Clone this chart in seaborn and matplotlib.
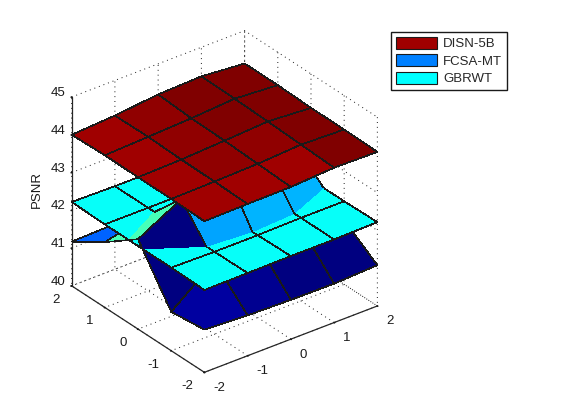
import numpy as np
import matplotlib
matplotlib.use("Agg")
import matplotlib.pyplot as plt
import seaborn as sns
from matplotlib.colors import LinearSegmentedColormap
from matplotlib.patches import Patch
from mpl_toolkits.mplot3d.art3d import Poly3DCollection, Line3DCollection

# grid of the surfaces, rows go with y, columns with x
grid_ticks = [-2, -1, 0, 1, 2]
psnr_ticks = [40, 41, 42, 43, 44, 45]
series_names = ["DISN-5B", "FCSA-MT", "GBRWT"]
legend_colors = ["#a00000", "#0080ff", "#00ffff"]

disn_psnr = [[44.00, 44.02, 44.03, 44.10, 44.08],
             [44.02, 44.04, 44.07, 44.14, 44.10],
             [44.02, 44.05, 44.11, 44.18, 44.10],
             [44.03, 44.08, 44.13, 44.21, 44.13],
             [44.00, 44.07, 44.19, 44.23, 44.13]]
fcsa_psnr = [[41.13, 41.07, 41.04, 41.03, 41.08],
             [41.03, 41.92, 41.95, 41.95, 41.70],
             [42.38, 43.00, 43.39, 43.15, 42.50],
             [41.73, 42.01, 42.14, 42.50, 42.30],
             [41.17, 41.20, 42.00, 42.10, 42.00]]
gbrwt_psnr = [[42.18, 42.19, 42.20, 42.20, 42.22],
              [42.20, 42.18, 42.18, 42.20, 42.20],
              [42.20, 42.20, 42.19, 42.20, 42.20],
              [42.20, 42.20, 42.20, 42.20, 42.20],
              [42.22, 42.20, 42.20, 42.20, 42.20]]

sns.set_theme(style="white", rc={"axes.unicode_minus": False})
plt.rcParams["font.family"] = ["Liberation Sans", "DejaVu Sans"]
plt.rcParams["font.size"] = 9.5

# seaborn refuses "jet", and the matplotlib one is not the same as the MATLAB one
jet = LinearSegmentedColormap.from_list("matlab_jet", [(0, "#000080"), (0.125, "#0000ff"), (0.375, "#00ffff"),
                                                       (0.625, "#ffff00"), (0.875, "#ff0000"), (1, "#800000")], N=64)
norm = plt.Normalize(41.0, 44.13)
X, Y = np.meshgrid(grid_ticks, grid_ticks)
Z_disn, Z_fcsa, Z_gbrwt = [np.array(z) for z in (disn_psnr, fcsa_psnr, gbrwt_psnr)]

fig = plt.figure(figsize=(5.61, 4.2), dpi=100)
ax = fig.add_axes([19.1 / 561, 13.1 / 420, 400 / 561, 400 / 420], projection="3d")
ax.computed_zorder = False
ax.set_proj_type("ortho")
ax.view_init(elev=30, azim=-127.5)
ax.set_box_aspect((1, 1, 1), zoom=0.9165)


def draw_surface(Z, order):
    ax.plot_surface(X, Y, Z, facecolors=jet(norm(Z)), rstride=1, cstride=1, shade=False,
                    edgecolor="k", linewidth=0.45, antialiased=False, zorder=order)


def keep_above(pts, d):
    # cut a polygon where d goes below zero
    out = []
    for k in range(len(pts)):
        p0, p1, d0, d1 = pts[k - 1], pts[k], d[k - 1], d[k]
        if d0 * d1 < 0:
            out.append(p0 + (p1 - p0) * d0 / (d0 - d1))
        if d1 >= 0:
            out.append(p1)
    return out


# FCSA sticks out of GBRWT at the back, mplot3d has no depth test so this part goes on top
P = np.dstack([X, Y, Z_fcsa])
D = Z_fcsa - Z_gbrwt
faces, colors, edges = [], [], []
for j in range(4):
    for i in range(4):
        idx = [(j, i), (j, i + 1), (j + 1, i + 1), (j + 1, i)]
        part = keep_above([P[a] for a in idx], [D[a] for a in idx])
        if len(part) > 2:
            faces.append(part)
            colors.append(jet(norm(Z_fcsa[j, i])))
for j in range(5):
    for i in range(5):
        for a in [(j, i + 1), (j + 1, i)]:
            if a[0] < 5 and a[1] < 5:
                t = D[j, i], D[a]
                if max(t) > 0:
                    p = [P[j, i], P[a]]
                    if min(t) < 0:
                        cut = p[0] + (p[1] - p[0]) * t[0] / (t[0] - t[1])
                        p = [cut, p[1]] if t[1] > 0 else [p[0], cut]
                    edges.append(p)

draw_surface(Z_fcsa, 1)
draw_surface(Z_gbrwt, 2)
ax.add_collection3d(Poly3DCollection(faces, facecolors=colors, edgecolors="none",
                                     antialiased=False, zorder=3))
ax.add_collection3d(Line3DCollection(edges, colors="k", linewidths=0.45, antialiased=False, zorder=4))
draw_surface(Z_disn, 5)

ax.set_xlim(-2, 2)
ax.set_ylim(-2, 2)
ax.set_zlim(40, 45)
ax.set_xticks(grid_ticks)
ax.set_yticks(grid_ticks)
ax.set_zticks(psnr_ticks)
ax.tick_params(axis="both", labelsize=9.5, colors="k", pad=2)
ax.tick_params(axis="z", pad=-1.3)
ax.zaxis.set_rotate_label(False)
ax.set_zlabel("PSNR", rotation=90, fontsize=9.5, color="k", labelpad=-4)

for axis in (ax.xaxis, ax.yaxis, ax.zaxis):
    axis.set_pane_color((1, 1, 1, 0))
    axis.pane.set_edgecolor("none")
    axis._axinfo["grid"].update(color="k", linestyle=(0, (1, 4)), linewidth=0.7)
    axis._axinfo["axisline"]["color"] = "k"
    axis._axinfo["tick"].update(inward_factor=0.03, outward_factor=0.0)
    axis.line.set_linewidth(0.9)
    for lab in axis.get_ticklabels():
        lab.set_va("baseline")
for lab in ax.yaxis.get_ticklabels():
    lab.set_ha("right")
for lab in ax.xaxis.get_ticklabels():
    lab.set_ha("left")

handles = [Patch(facecolor=c, edgecolor="k", linewidth=0.8) for c in legend_colors]
fig.legend(handles, series_names, loc="upper left", bbox_to_anchor=(391 / 561, 1 - 32 / 420),
           bbox_transform=fig.transFigure, fontsize=9.5, frameon=True, fancybox=False, framealpha=1,
           edgecolor="k", borderaxespad=0, borderpad=0.35, handlelength=3.1, handleheight=1.05,
           handletextpad=0.5, labelspacing=0.3)

fig.savefig("out.png", dpi=100, facecolor="white")
